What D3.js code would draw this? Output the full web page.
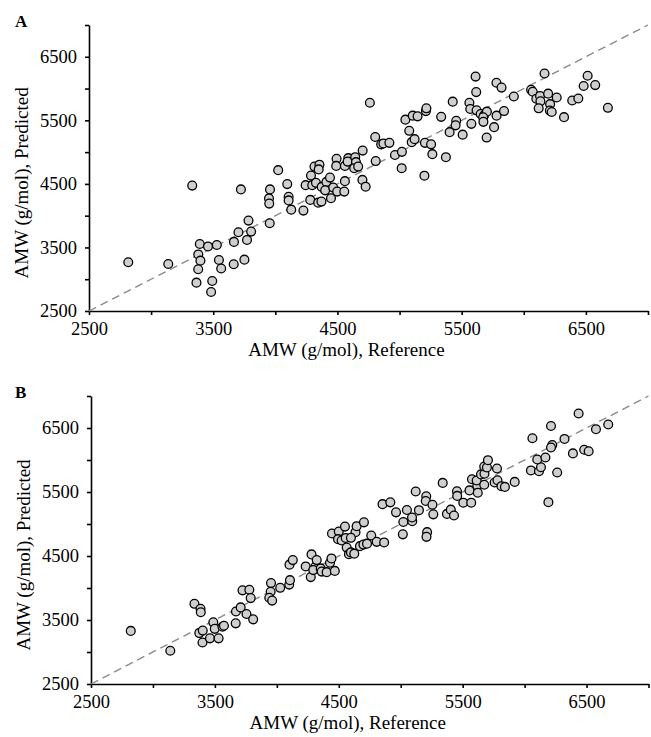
<!DOCTYPE html>
<html>
<head>
<meta charset="utf-8">
<script src="https://cdn.jsdelivr.net/npm/d3@7"></script>
<style>
  body { margin: 0; background: #fff; }
  svg { display: block; font-family: "Liberation Serif", "Times New Roman", serif; }
</style>
</head>
<body>
<div id="container"></div>
<script>
// panel A: reference vs predicted AMW (g/mol)
let refA = [2816,3138,3331,3723,3392,3458,3529,3380,3397,3379,
  3365,3492,3483,3546,3564,3665,3667,3703,3772,3751,
  3784,3805,3957,3949,3951,3955,4023,4096,4107,4107,
  4128,4226,4244,4281,4287,4315,4355,4349,4297,4327,
  4345,4371,4373,4411,4401,4440,4466,4448,4498,4555,
  4560,4493,4490,4560,4587,4582,4643,4649,4635,4667,
  4703,4701,4727,4808,4804,4852,4870,4918,4761,4963,
  5019,5017,5078,5047,5106,5145,5212,5216,5098,5121,
  5204,5254,5264,5200,5373,5335,5428,5456,5451,5403,
  5508,5562,5569,5578,5612,5617,5620,5653,5679,5703,
  5673,5675,5781,5841,5761,5701,5780,5821,5920,6059,
  6072,6101,6131,6134,6120,6167,6196,6212,6210,6225,
  6265,6324,6390,6439,6482,6514,6575,6677];
let predA = [3267,3240,4473,4413,3555,3516,3539,3390,3292,3157,
  2946,2972,2799,3303,3169,3235,3587,3739,3618,3308,
  3922,3749,4413,4272,4190,3881,4716,4497,4298,4240,
  4095,4080,4480,4248,4631,4772,4802,4728,4480,4516,
  4205,4221,4453,4531,4398,4599,4442,4275,4379,4379,
  4543,4894,4783,4783,4905,4851,4920,4842,4747,4772,
  5024,4563,4456,4859,5237,5122,5135,5146,5776,4954,
  5004,4747,5335,5511,5574,5563,5645,5689,5157,5204,
  5146,5122,4968,4629,4920,5555,5794,5492,5421,5314,
  5275,5776,5678,5445,6188,5944,5657,5599,5574,5637,
  5547,5476,5574,5646,5393,5229,6091,6015,5875,5980,
  5949,5839,5883,5799,5689,6237,5920,5755,5653,5631,
  5859,5550,5812,5843,6040,6202,6054,5697];

// panel B
let refB = [2821,3140,3335,3384,3386,3374,3402,3400,3460,3530,
  3487,3499,3561,3573,3668,3670,3708,3755,3809,3723,
  3778,3789,3953,3950,3939,3962,4027,4100,4106,4102,
  4129,4233,4280,4274,4310,4294,4322,4354,4362,4402,
  4429,4441,4468,4445,4500,4494,4523,4550,4556,4564,
  4582,4598,4625,4635,4644,4703,4598,4671,4699,4728,
  4762,4806,4866,4853,4916,4962,5021,5017,5050,5093,
  5091,5121,5147,5206,5202,5256,5263,5213,5208,
  5339,5373,5404,5430,5454,5456,5505,5569,5555,5575,
  5618,5622,5613,5648,5676,5674,5674,5696,5704,5777,
  5758,5781,5813,5841,5920,6063,6051,6116,6132,6102,
  6168,6192,6213,6223,6213,6263,6322,6390,6436,6481,
  6517,6576,6675];
let predB = [3330,3020,3753,3675,3621,3296,3334,3148,3213,3213,
  3463,3362,3394,3410,3448,3632,3697,3593,3510,3963,
  3972,3842,4077,3941,3847,3803,4003,4053,4123,4365,
  4436,4337,4525,4170,4331,4280,4436,4306,4256,4248,
  4394,4462,4267,4852,4881,4763,4743,4959,4782,4631,
  4529,4556,4537,4873,4966,5026,4784,4654,4678,4693,
  4821,4721,4712,5310,5338,5182,5032,4838,5219,5044,
  5102,5508,5216,5432,5360,5300,5151,4873,4799,
  5642,5158,5224,5133,5510,5439,5333,5333,5525,5700,
  5599,5489,5680,5775,5786,5614,5898,5884,5997,5867,
  5649,5684,5591,5580,5658,6340,5837,5825,5887,6008,
  6039,5341,6531,6235,6195,5805,6329,6103,6726,6161,
  6137,6481,6554];

let tickLabels = [2500, 3500, 4500, 5500, 6500];
let axisMin = 2500;
let axisMax = 7000;
let tickStep = 500;

let w = 651;
let h = 737;
let viz = d3.select("#container")
  .append("svg")
    .attr("width", w)
    .attr("height", h)
;

let panels = [
  {name: "A", ref: refA, pred: predA, left: 89, right: 648, top: 25, bottom: 311},
  {name: "B", ref: refB, pred: predB, left: 91, right: 648.5, top: 396, bottom: 684}
];

panels.forEach(drawPanel);

function drawPanel(p){
  let g = viz.append("g").attr("class", "panel" + p.name);

  let xScale = d3.scaleLinear().domain([axisMin, axisMax]).range([p.left, p.right]);
  let yScale = d3.scaleLinear().domain([axisMin, axisMax]).range([p.bottom, p.top]);

  let ticks = d3.range(axisMin, axisMax + 1, tickStep);
  let fmt = function(d){ return tickLabels.indexOf(d) >= 0 ? d : ""; };

  let xAxis = d3.axisBottom(xScale)
    .tickValues(ticks).tickFormat(fmt)
    .tickSize(4).tickSizeOuter(0).tickPadding(7);
  let yAxis = d3.axisLeft(yScale)
    .tickValues(ticks).tickFormat(fmt)
    .tickSize(4).tickSizeOuter(0).tickPadding(8);

  let xAxisGroup = g.append("g")
      .attr("transform", "translate(0," + p.bottom + ")")
      .call(xAxis);
  let yAxisGroup = g.append("g")
      .attr("transform", "translate(" + p.left + ",0)")
      .call(yAxis);

  [xAxisGroup, yAxisGroup].forEach(function(ax){
    ax.select(".domain").attr("stroke", "#000").attr("stroke-width", 1.6);
    ax.selectAll(".tick line").attr("stroke", "#000").attr("stroke-width", 1.6);
    ax.selectAll(".tick text")
      .attr("fill", "#000")
      .style("font-family", "'Liberation Serif', 'Times New Roman', serif")
      .style("font-size", "18.5px");
  });

  // 1:1 line
  let lineMaker = d3.line()
    .x(function(d){ return xScale(d); })
    .y(function(d){ return yScale(d); });
  g.append("path")
    .datum([axisMin, axisMax])
    .attr("d", lineMaker)
    .attr("fill", "none")
    .attr("stroke", "#8a8a8a")
    .attr("stroke-width", 1.4)
    .attr("stroke-dasharray", "8,5");

  let points = p.ref.map(function(d, i){ return {ref: d, pred: p.pred[i]}; });
  g.selectAll("circle")
    .data(points)
    .enter()
    .append("circle")
      .attr("cx", function(d){ return xScale(d.ref); })
      .attr("cy", function(d){ return yScale(d.pred); })
      .attr("r", 4.4)
      .attr("fill", "#cfcfcf")
      .attr("stroke", "#000")
      .attr("stroke-width", 1.3);

  // axis titles
  g.append("text")
    .attr("x", xScale(4500) + 9)
    .attr("y", p.bottom + 45)
    .attr("text-anchor", "middle")
    .style("font-size", "19px")
    .text("AMW (g/mol), Reference");

  let yMid = (yScale(2500) + yScale(6500)) / 2 - 1;
  g.append("text")
    .attr("transform", "translate(" + (p.left - 61) + "," + yMid + ") rotate(-90)")
    .attr("text-anchor", "middle")
    .style("font-size", "19px")
    .text("AMW (g/mol), Predicted");

  g.append("text")
    .attr("x", 15)
    .attr("y", p.top + 2)
    .style("font-size", "17px")
    .style("font-weight", "bold")
    .text(p.name);
}
</script>
</body>
</html>
